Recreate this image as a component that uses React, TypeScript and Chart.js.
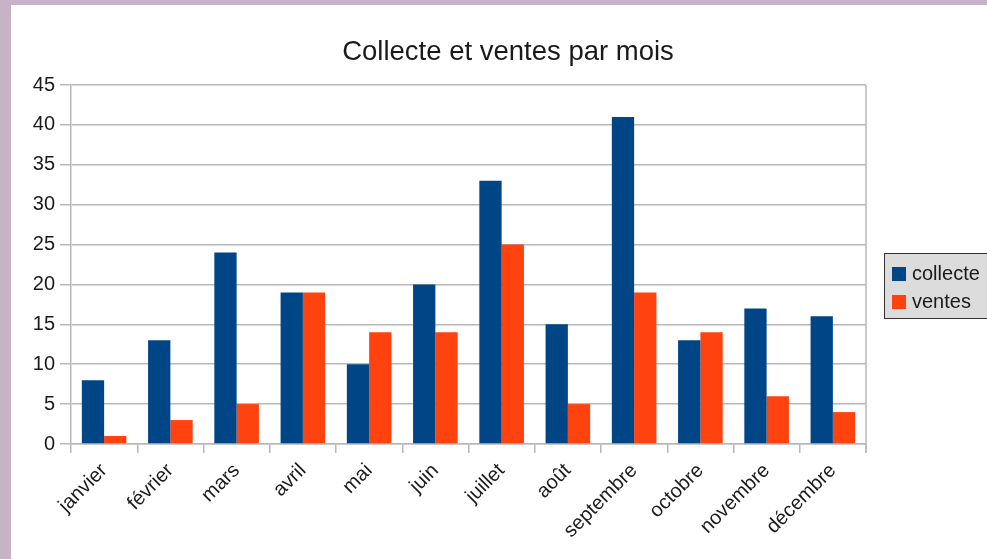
import React, { useEffect, useRef } from 'react';
import { Chart, registerables } from 'chart.js';

Chart.register(...registerables);

const categories = ['janvier', 'février', 'mars', 'avril', 'mai', 'juin', 'juillet', 'août', 'septembre', 'octobre', 'novembre', 'décembre'];
const collecte = [8, 13, 24, 19, 10, 20, 33, 15, 41, 13, 17, 16];
const ventes = [1, 3, 5, 19, 14, 14, 25, 5, 19, 14, 6, 4];
const seriesNames = ['collecte', 'ventes'];
const seriesColors = ['#004586', '#ff420e'];
const chartTitle = 'Collecte et ventes par mois';
const yMin = 0;
const yMax = 45;
const yStep = 5;

const FONT = "'Liberation Sans', Arial, sans-serif";
const GRID = '#b8b8b8';
const TEXT = '#1a1a1a';

const decorPlugin = {
  id: 'decor',
  afterDraw(chart: any) {
    const { ctx, chartArea } = chart;
    ctx.save();
    // right border of plot
    ctx.strokeStyle = GRID;
    ctx.lineWidth = 1.5;
    ctx.beginPath();
    ctx.moveTo(chartArea.right, chartArea.top);
    ctx.lineTo(chartArea.right, chartArea.bottom + 9);
    ctx.stroke();

    // title
    ctx.fillStyle = TEXT;
    ctx.font = `27.5px ${FONT}`;
    ctx.textAlign = 'center';
    ctx.textBaseline = 'alphabetic';
    ctx.fillText(chartTitle, 508, 60);

    // legend
    const lx = 884, ly = 253, lw = 120, lh = 66;
    ctx.fillStyle = '#dcdcdc';
    ctx.fillRect(lx, ly, lw, lh);
    ctx.strokeStyle = '#333333';
    ctx.lineWidth = 1;
    ctx.strokeRect(lx + 0.5, ly + 0.5, lw, lh - 1);
    ctx.font = `20px ${FONT}`;
    ctx.textAlign = 'left';
    ctx.textBaseline = 'middle';
    chart.data.datasets.forEach((ds: any, i: number) => {
      const cy = ly + 21 + i * 28;
      ctx.fillStyle = ds.backgroundColor;
      ctx.fillRect(lx + 8, cy - 7, 14, 14);
      ctx.fillStyle = TEXT;
      ctx.fillText(ds.label, lx + 28, cy);
    });
    ctx.restore();
  },
};

export default function App() {
  const ref = useRef<HTMLCanvasElement | null>(null);

  useEffect(() => {
    if (!ref.current) return;
    const chart = new Chart(ref.current, {
      type: 'bar',
      data: {
        labels: categories,
        datasets: [
          { label: seriesNames[0], data: collecte, backgroundColor: seriesColors[0], borderWidth: 0 },
          { label: seriesNames[1], data: ventes, backgroundColor: seriesColors[1], borderWidth: 0 },
        ],
      },
      options: {
        responsive: false,
        animation: false,
        layout: { padding: { top: 85, left: 0, right: 121, bottom: 0 } },
        datasets: {
          bar: { categoryPercentage: 0.673, barPercentage: 1.0 },
        },
        plugins: {
          legend: { display: false },
          title: { display: false },
          tooltip: { enabled: false },
        },
        scales: {
          x: {
            offset: true,
            grid: {
              offset: true,
              drawOnChartArea: false,
              drawTicks: true,
              tickLength: 9,
              color: GRID,
              lineWidth: 1.5,
            },
            border: { display: true, color: GRID, width: 1.5 },
            ticks: {
              minRotation: 45,
              maxRotation: 45,
              autoSkip: false,
              padding: 6,
              color: TEXT,
              font: { family: FONT, size: 20 },
            },
            afterFit: (s: any) => { s.height = 115; },
          },
          y: {
            min: yMin,
            max: yMax,
            ticks: {
              stepSize: yStep,
              padding: 5,
              color: TEXT,
              font: { family: FONT, size: 20 },
            },
            grid: {
              color: GRID,
              lineWidth: 1.5,
              tickLength: 11,
              drawTicks: true,
            },
            border: { display: true, color: GRID, width: 1.5 },
            afterFit: (s: any) => { s.width = 71; },
          },
        },
      },
      plugins: [decorPlugin],
    });
    return () => chart.destroy();
  }, []);

  return (
    <div style={{ position: 'fixed', left: 0, top: 0, width: 987, height: 559, background: '#c7b3c5', overflow: 'hidden' }}>
      <div style={{ position: 'absolute', left: 11, top: 5, right: 0, bottom: 0, background: '#ffffff' }} />
      <canvas ref={ref} width={987} height={559} style={{ position: 'absolute', left: 0, top: 0, width: 987, height: 559 }} />
    </div>
  );
}
